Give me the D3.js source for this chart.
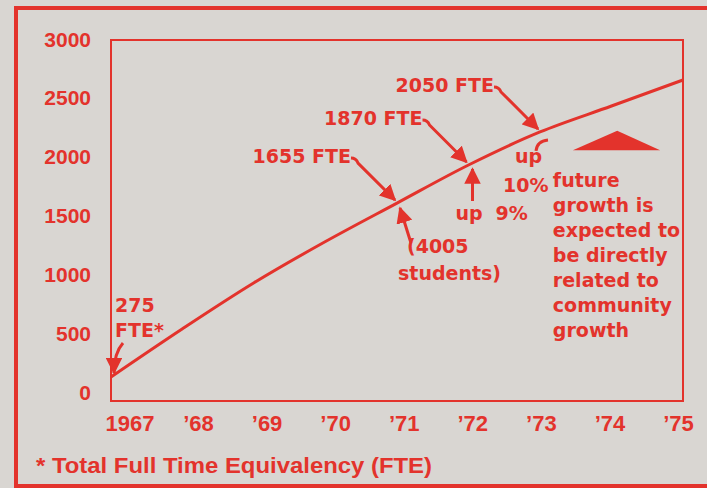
<!DOCTYPE html>
<html>

<head>
  <meta charset="utf8">
  <script src="https://d3js.org/d3.v7.min.js"></script>
  <style>
    body {
      margin: 0;
      background: #d9d6d2;
    }

    .axis text {
      fill: #e3332c;
      font-family: "Liberation Sans", Arial, sans-serif;
      font-weight: bold;
    }

    .note {
      fill: #e3332c;
      font-family: "DejaVu Sans", sans-serif;
      font-weight: bold;
      font-size: 19px;
    }

    .arrow {
      stroke: #e3332c;
      stroke-width: 3;
      fill: none;
    }
  </style>
</head>

<body>
  <svg id="chart" width="707" height="488"></svg>

  <script>
    var red = '#e3332c';

    var years = [1967, 1968, 1969, 1970, 1971, 1972, 1973, 1974, 1975];
    var fte = [136, 545, 935, 1285, 1611, 1934, 2214, 2434, 2655];
    var yearLabels = ['1967', '\u201968', '\u201969', '\u201970', '\u201971', '\u201972', '\u201973', '\u201974', '\u201975'];
    var yTicks = [0, 500, 1000, 1500, 2000, 2500, 3000];

    var callouts = [
      { year: 1971, text: '1655 FTE' },
      { year: 1972, text: '1870 FTE' },
      { year: 1973, text: '2050 FTE' }
    ];
    var startNote = ['275', 'FTE*'];
    var studentsNote = ['(4005', 'students)'];
    var growthNote = ['future', 'growth is', 'expected to', 'be directly', 'related to', 'community', 'growth'];
    var footnote = '* Total Full Time Equivalency (FTE)';

    var chart = d3.select('#chart');
    var plotLeft = 111, plotRight = 683, plotTop = 40, plotBottom = 401;

    var x = d3.scaleLinear().domain([1967, 1975]).range([plotLeft, plotRight]);
    var xLab = d3.scaleLinear().domain([1968, 1975]).range([198, 678]);
    var y = d3.scaleLinear().domain([0, 3000]).range([393, 39.3]);

    var data = years.map((d, i) => ({ year: d, value: fte[i] }));
    var pt = (yr) => {
      var d = data.find((e) => e.year === yr);
      return [x(d.year), y(d.value)];
    };

    chart.append('defs').append('marker')
      .attr('id', 'head')
      .attr('viewBox', '0 0 10 10')
      .attr('refX', 9).attr('refY', 5)
      .attr('markerWidth', 5.5).attr('markerHeight', 5.5)
      .attr('markerUnits', 'strokeWidth')
      .attr('orient', 'auto')
      .append('path')
      .attr('d', 'M0,0L10,5L0,10z')
      .attr('fill', red);

    // outer border
    chart.append('path')
      .attr('d', 'M16,489V8H710M14,486H710')
      .attr('stroke', red).attr('stroke-width', 4).attr('fill', 'none');

    // plot frame
    chart.append('rect')
      .attr('x', plotLeft).attr('y', plotTop)
      .attr('width', plotRight - plotLeft).attr('height', plotBottom - plotTop)
      .attr('fill', 'none').attr('stroke', red).attr('stroke-width', 2);

    chart.append('g')
      .attr('class', 'axis')
      .attr('transform', 'translate(' + plotLeft + ',0)')
      .call(d3.axisLeft(y).tickValues(yTicks).tickSize(0).tickPadding(20).tickFormat(d3.format('d')))
      .call((g) => g.select('.domain').remove())
      .selectAll('text').attr('font-size', 21);

    chart.append('g')
      .attr('class', 'axis')
      .attr('transform', 'translate(0,' + plotBottom + ')')
      .call(d3.axisBottom(xLab).tickValues(years).tickSize(0).tickPadding(14)
        .tickFormat((d, i) => yearLabels[i]))
      .call((g) => g.select('.domain').remove())
      .selectAll('text').attr('font-size', 22);

    chart.append('path')
      .datum(data)
      .attr('fill', 'none')
      .attr('stroke', red)
      .attr('stroke-width', 3)
      .attr('d', d3.line().x((d) => x(d.year)).y((d) => y(d.value)).curve(d3.curveMonotoneX));

    var notes = chart.append('g');

    // 1967 start
    var p0 = pt(1967);
    notes.selectAll('.start').data(startNote).join('text')
      .attr('class', 'note')
      .attr('x', p0[0] + 4)
      .attr('y', (d, i) => p0[1] - 65 + i * 25)
      .text((d) => d);
    notes.append('path').attr('class', 'arrow').attr('marker-end', 'url(#head)')
      .attr('d', 'M' + (p0[0] + 12) + ',' + (p0[1] - 34) + 'Q' + (p0[0] + 3) + ',' + (p0[1] - 24) + ' ' + (p0[0] + 3) + ',' + (p0[1] - 4));

    // FTE callouts
    callouts.forEach((c) => {
      var p = pt(c.year);
      notes.append('text').attr('class', 'note')
        .attr('font-size', 20)
        .attr('text-anchor', 'end')
        .attr('x', p[0] - 46).attr('y', p[1] - 40)
        .text(c.text);
      notes.append('path').attr('class', 'arrow').attr('marker-end', 'url(#head)')
        .attr('d', 'M' + (p[0] - 46) + ',' + (p[1] - 45) + 'Q' + (p[0] - 41) + ',' + (p[1] - 45) + ' ' + (p[0] - 39) + ',' + (p[1] - 40) + 'L' + (p[0] - 2) + ',' + (p[1] - 3));
    });

    // 1971 students
    var p1 = pt(1971);
    notes.selectAll('.stu').data(studentsNote).join('text')
      .attr('class', 'note')
      .attr('x', (d, i) => p1[0] + (i ? 1 : 10))
      .attr('y', (d, i) => p1[1] + 50 + i * 27)
      .text((d) => d);
    notes.append('path').attr('class', 'arrow').attr('marker-end', 'url(#head)')
      .attr('d', 'M' + (p1[0] + 14) + ',' + (p1[1] + 40) + 'L' + (p1[0] + 3) + ',' + (p1[1] + 5));

    // 1972 up 9%
    var p2 = pt(1972);
    notes.append('path').attr('class', 'arrow').attr('marker-end', 'url(#head)')
      .attr('d', 'M' + (p2[0] + 4) + ',' + (p2[1] + 36) + 'L' + (p2[0] + 4) + ',' + (p2[1] + 4));
    notes.append('text').attr('class', 'note')
      .attr('x', p2[0] - 13).attr('y', p2[1] + 55).text('up');
    notes.append('text').attr('class', 'note')
      .attr('x', p2[0] + 27).attr('y', p2[1] + 55).text('9%');

    // 1973 up 10%
    var p3 = pt(1973);
    notes.append('path').attr('class', 'arrow')
      .attr('stroke-width', 2)
      .attr('d', 'M' + (p3[0] - 4) + ',' + (p3[1] + 19) + 'Q' + (p3[0] - 3) + ',' + (p3[1] + 9) + ' ' + (p3[0] + 8) + ',' + (p3[1] + 8));
    notes.append('text').attr('class', 'note')
      .attr('x', p3[0] - 25).attr('y', p3[1] + 31).text('up');
    notes.append('text').attr('class', 'note')
      .attr('x', p3[0] - 37).attr('y', p3[1] + 60).text('10%');

    // triangle marker for future
    var tri = [[1973.46, 2060], [1974.08, 2225], [1974.68, 2060]];
    notes.append('path')
      .attr('d', 'M' + tri.map((d) => x(d[0]) + ',' + y(d[1])).join('L') + 'Z')
      .attr('fill', red);

    notes.selectAll('.grow').data(growthNote).join('text')
      .attr('class', 'note')
      .attr('x', x(1973.18))
      .attr('y', (d, i) => y(1750) + i * 25)
      .text((d) => d);

    chart.append('text')
      .attr('x', 36).attr('y', 473)
      .attr('fill', red)
      .attr('font-family', '"Liberation Sans", Arial, sans-serif')
      .attr('font-weight', 'bold')
      .attr('font-size', 22)
      .attr('textLength', 396)
      .attr('lengthAdjust', 'spacingAndGlyphs')
      .text(footnote);
  </script>
</body>

</html>
